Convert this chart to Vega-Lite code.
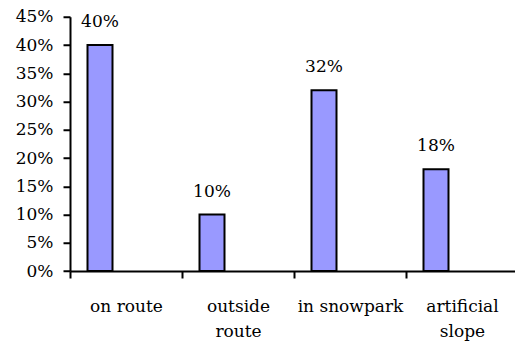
{
  "$schema": "https://vega.github.io/schema/vega-lite/v6.json",
  "autosize": "none",
  "padding": {"left": 70, "top": 16.75, "right": 0, "bottom": 73},
  "width": 448,
  "height": 254.25,
  "background": "white",
  "config": {
    "view": {"stroke": null},
    "font": "DejaVu Serif",
    "axis": {"domainColor": "black", "tickColor": "black", "labelColor": "black", "labelFont": "DejaVu Serif", "grid": false, "title": null}
  },
  "data": {
    "values": [
      {"location": "on route", "share": 0.40},
      {"location": "outside route", "share": 0.10},
      {"location": "in snowpark", "share": 0.32},
      {"location": "artificial slope", "share": 0.18}
    ]
  },
  "encoding": {
    "x": {
      "field": "location",
      "type": "nominal",
      "sort": null,
      "scale": {"paddingInner": 0, "paddingOuter": 0},
      "axis": {
        "labelAngle": 0,
        "tickBand": "extent",
        "tickSize": 7,
        "tickWidth": 2,
        "domainWidth": 2,
        "labelFontSize": 17,
        "labelBaseline": "alphabetic",
        "labelPadding": 33,
        "labelLineHeight": 25,
        "labelExpr": "datum.value == 'outside route' ? ['outside', 'route'] : datum.value == 'artificial slope' ? ['artificial', 'slope'] : datum.value"
      }
    },
    "y": {
      "field": "share",
      "type": "quantitative",
      "scale": {"domain": [0, 0.45], "nice": false},
      "axis": {
        "values": [0, 0.05, 0.1, 0.15, 0.2, 0.25, 0.3, 0.35, 0.4, 0.45],
        "format": ".0%",
        "tickSize": 7,
        "tickWidth": 2,
        "domainWidth": 2,
        "labelFontSize": 17,
        "labelPadding": 10,
        "labelBaseline": "middle"
      }
    }
  },
  "layer": [
    {
      "mark": {"type": "bar", "width": 25, "xOffset": -26, "fill": "#9999FF", "stroke": "black", "strokeWidth": 2}
    },
    {
      "mark": {"type": "text", "xOffset": -26, "dy": -18, "baseline": "alphabetic", "font": "DejaVu Serif", "fontSize": 17, "color": "black"},
      "encoding": {"text": {"field": "share", "type": "quantitative", "format": ".0%"}}
    }
  ]
}
